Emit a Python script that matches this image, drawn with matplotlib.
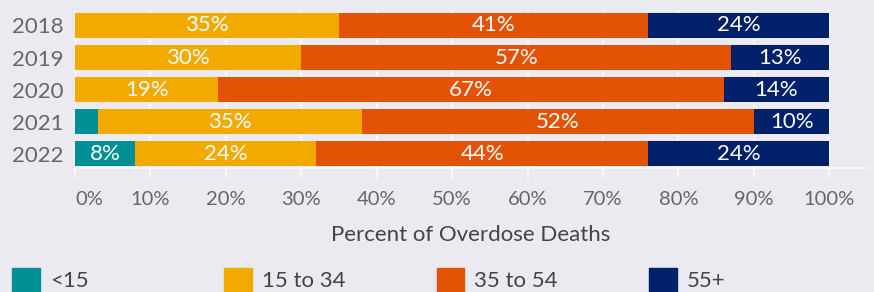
import matplotlib.pyplot as plt
from matplotlib.patches import Patch

plt.rcParams['font.family'] = ['Lato', 'DejaVu Sans']

years = ["2018", "2019", "2020", "2021", "2022"]
groups = ["<15", "15 to 34", "35 to 54", "55+"]
under15 = [0, 0, 0, 3, 8]
age15_34 = [35, 30, 19, 35, 24]
age35_54 = [41, 57, 67, 52, 44]
age55up = [24, 13, 14, 10, 24]
ticks = [0, 10, 20, 30, 40, 50, 60, 70, 80, 90, 100]

colors = ["#008f95", "#f2a900", "#e35205", "#002169"]
bg = "#ebeaf0"
grid_col = "#f8f8fa"

fig = plt.figure(figsize=(8.74, 2.92), dpi=100, facecolor=bg)
ax = fig.add_axes([75 / 874, 1 - 168 / 292, (867 - 75) / 874, (168 - 10) / 292])
ax.set_facecolor(bg)

pos = list(range(len(years)))
left = [0] * len(years)
for vals, c in zip([under15, age15_34, age35_54, age55up], colors):
    bars = ax.barh(pos, vals, left=left, height=0.78, color=c, zorder=3)
    labs = [f"{v}%" if v >= 5 else "" for v in vals]
    ax.bar_label(bars, labels=labs, label_type="center", color="white",
                 fontsize=16, zorder=4)
    left = [a + b for a, b in zip(left, vals)]

ax.set_xlim(0, 105)
ax.set_ylim(4.45, -0.484)
ax.set_yticks(pos)
ax.set_yticklabels(years)
ax.set_xticks(ticks)
ax.set_xticklabels([f"{t}%" for t in ticks])
ax.get_xticklabels()[0].set_horizontalalignment("left")

ax.grid(axis="x", color=grid_col, linewidth=1.6, zorder=0)
ax.tick_params(axis="x", length=7.5, width=1.6, color=grid_col, pad=9,
               labelsize=14.5, labelcolor="#666666")
ax.tick_params(axis="y", length=0, pad=8, labelsize=16, labelcolor="#666666")
for s in ["top", "right", "left"]:
    ax.spines[s].set_visible(False)
ax.spines["bottom"].set_color(grid_col)
ax.spines["bottom"].set_linewidth(1.6)

ax.set_xlabel("Percent of Overdose Deaths", fontsize=16, color="#444444", labelpad=12)

for i, (g, c) in enumerate(zip(groups, colors)):
    x0 = (12 + 212.3 * i) / 874
    fig.legend(handles=[Patch(color=c, label=g)], loc="upper left",
               bbox_to_anchor=(x0, 1 - 268 / 292), frameon=False,
               fontsize=16, labelcolor="#444444", handlelength=1.25,
               handleheight=1.25, handletextpad=0.45, borderpad=0,
               borderaxespad=0)

fig.savefig("out.png", dpi=100, facecolor=bg)
